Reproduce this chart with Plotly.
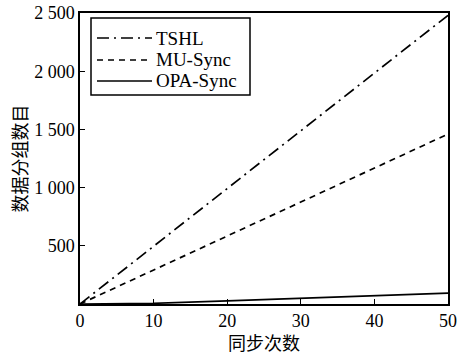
import plotly.graph_objects as go

sync = [0, 10, 20, 30, 40, 50]
tshl = [0, 496, 992, 1488, 1984, 2480]
mu_sync = [0, 292, 584, 876, 1168, 1460]
opa_sync = [0, 6, 26, 50, 72, 94]

series_names = ["TSHL", "MU-Sync", "OPA-Sync"]
series_values = [tshl, mu_sync, opa_sync]
series_dash = ["12px,5px,2px,5px", "6px,5px", "solid"]

y_ticks = [500, 1000, 1500, 2000, 2500]
x_ticks = [0, 10, 20, 30, 40, 50]

W, H = 459, 355
ML, MR, MT, MB = 80, 11, 13, 51
PW, PH = W - ML - MR, H - MT - MB


def px(x):
    return (x - ML) / PW


def py(y):
    return (H - MB - y) / PH


serif = "Liberation Serif, Times New Roman, serif"
cjk = "Noto Sans CJK SC"

fig = go.Figure()
for name, vals, dash in zip(series_names, series_values, series_dash):
    fig.add_trace(go.Scatter(x=sync, y=vals, mode="lines", name=name,
                             showlegend=False,
                             line=dict(color="black", width=1.7, dash=dash)))

# custom legend box
shapes = [dict(type="rect", xref="paper", yref="paper",
               x0=px(91), x1=px(250), y0=py(95), y1=py(18),
               line=dict(color="black", width=1.5), fillcolor="white", layer="above")]
annotations = []
rows = [38, 60, 81]
for name, dash, ry in zip(series_names, series_dash, rows):
    shapes.append(dict(type="line", xref="paper", yref="paper",
                       x0=px(97), x1=px(152), y0=py(ry), y1=py(ry),
                       line=dict(color="black", width=1.7, dash=dash), layer="above"))
    annotations.append(dict(text=name, xref="paper", yref="paper",
                            x=px(154), y=py(ry), xanchor="left", yanchor="middle",
                            showarrow=False, font=dict(family=serif, size=19, color="black")))

fig.update_layout(
    width=W, height=H,
    margin=dict(l=ML, r=MR, t=MT, b=MB),
    paper_bgcolor="white", plot_bgcolor="white",
    separators=". ",
    font=dict(family=serif, size=18, color="black"),
    showlegend=False,
    shapes=shapes, annotations=annotations,
    xaxis=dict(range=[0, 50], tickvals=x_ticks, ticks="inside", ticklen=5,
               tickcolor="black", showline=True, linecolor="black", linewidth=1.5,
               mirror=True, showgrid=False, zeroline=False, automargin=False,
               tickfont=dict(family=serif, size=18),
               title=dict(text="同步次数", font=dict(family=cjk, size=18), standoff=2)),
    yaxis=dict(range=[0, 2500], tickvals=y_ticks, tickformat=",d", ticks="inside",
               ticklen=5, tickcolor="black", showline=True, linecolor="black",
               linewidth=1.5, mirror=True, showgrid=False, zeroline=False,
               automargin=False,
               tickfont=dict(family=serif, size=18),
               title=dict(text="数据分组数目", font=dict(family=cjk, size=18), standoff=2)),
)

fig.write_html("out.html", config={"displayModeBar": False},
               post_script="document.body.style.margin='0';document.body.style.padding='0';")
